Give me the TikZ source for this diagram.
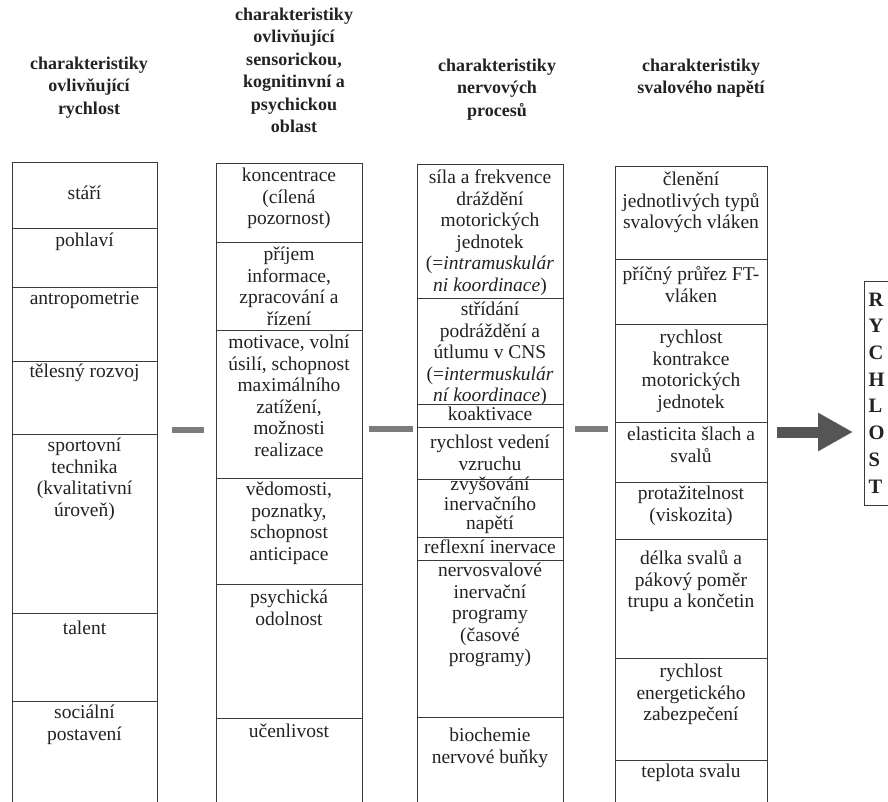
\documentclass[tikz,border=0pt]{standalone}
\usepackage{fontspec}
\setmainfont{Liberation Serif}
\usetikzlibrary{arrows.meta}
\definecolor{linec}{HTML}{3A3A3A}
\definecolor{textc}{HTML}{222222}
\definecolor{barc}{HTML}{7C7C7C}
\definecolor{arrowc}{HTML}{555555}
\newcommand\tcell[7]{%
  \node[cellbox, minimum width=#4pt, minimum height=#5pt] (#1) at (#2,#3) {};
  \node[celltext] (#1t) at ({#2+#4/2},{#6-10.55}) {\strut #7};
}
\begin{document}
\begin{tikzpicture}[x=1pt,y=-1pt,
  cellbox/.style={draw=linec, line width=0.9pt, inner sep=0pt, anchor=north west},
  celltext/.style={anchor=north, align=center, inner sep=0pt, text=textc,
    font=\fontsize{19.5}{21.5}\selectfont},
  head/.style={anchor=north, align=center, inner sep=0pt, text=textc,
    font=\bfseries\fontsize{18}{22.5}\selectfont},
  barline/.style={draw=barc, line width=6.5pt},
  bigarrow/.style={draw=arrowc, line width=11pt, -{Triangle[length=35pt,width=36pt]}},
  resbox/.style={draw=linec, line width=0.9pt, inner sep=0pt, anchor=north west},
  resletters/.style={anchor=north west, align=left, inner sep=0pt, text=textc,
    font=\bfseries\fontsize{20.5}{26.7}\selectfont},
]
\useasboundingbox (0,0) rectangle (888,802);
\fill[white] (0,0) rectangle (888,802);

% headers
\node[head] (h1) at (89,53.5) {\strut charakteristiky\\ovlivňující\\rychlost};
\node[head] (h2) at (294,4.5) {\strut charakteristiky\\ovlivňující\\sensorickou,\\kognitinvní a\\psychickou\\oblast};
\node[head] (h3) at (497,55.5) {\strut charakteristiky\\nervových\\procesů};
\node[head] (h4) at (701,55.5) {\strut charakteristiky\\svalového napětí};

% column 1
\tcell{c1a}{12}{162}{145}{66}{195}{stáří}
\tcell{c1b}{12}{228}{145}{59}{242}{pohlaví}
\tcell{c1c}{12}{287}{145}{74}{300}{antropometrie}
\tcell{c1d}{12}{361}{145}{73}{373}{tělesný rozvoj}
\tcell{c1e}{12}{434}{145}{179}{447}{sportovní\\technika\\(kvalitativní\\úroveň)}
\tcell{c1f}{12}{613}{145}{88}{630}{talent}
\tcell{c1g}{12}{701}{145}{115}{714}{sociální\\postavení}

% column 2
\tcell{c2a}{216}{163}{146}{79}{177}{koncentrace\\(cílená\\pozornost)}
\tcell{c2b}{216}{242}{146}{88}{256}{příjem\\informace,\\zpracování a\\řízení}
\tcell{c2c}{216}{330}{146}{148}{344}{motivace, volní\\úsilí, schopnost\\maximálního\\zatížení,\\možnosti\\realizace}
\tcell{c2d}{216}{478}{146}{106}{491}{vědomosti,\\poznatky,\\schopnost\\anticipace}
\tcell{c2e}{216}{584}{146}{134}{599}{psychická\\odolnost}
\tcell{c2f}{216}{718}{146}{98}{733}{učenlivost}

% column 3
\tcell{c3a}{417}{164}{146}{134}{179}{síla a frekvence\\dráždění\\motorických\\jednotek\\(=\textit{intramuskulár}\\\textit{ni koordinace})}
\tcell{c3b}{417}{298}{146}{106}{311}{střídání\\podráždění a\\útlumu v CNS\\(=\textit{intermuskulár}\\\textit{ní koordinace})}
\tcell{c3c}{417}{404}{146}{23}{416}{koaktivace}
\tcell{c3d}{417}{427}{146}{52}{444}{rychlost vedení\\vzruchu}
\tcell{c3e}{417}{479}{146}{58}{486}{zvyšování\\[-2pt]inervačního\\[-2pt]napětí}
\tcell{c3f}{417}{537}{146}{23}{549}{reflexní inervace}
\tcell{c3g}{417}{560}{146}{157}{572}{nervosvalové\\inervační\\programy\\(časové\\programy)}
\tcell{c3h}{417}{717}{146}{99}{737}{biochemie\\nervové buňky}

% column 4
\tcell{c4a}{615}{166}{152}{93}{181}{členění\\jednotlivých typů\\svalových vláken}
\tcell{c4b}{615}{259}{152}{65}{276}{příčný průřez FT-\\vláken}
\tcell{c4c}{615}{324}{152}{98}{339}{rychlost\\kontrakce\\motorických\\jednotek}
\tcell{c4d}{615}{422}{152}{60}{436}{elasticita šlach a\\svalů}
\tcell{c4e}{615}{482}{152}{57}{495}{protažitelnost\\(viskozita)}
\tcell{c4f}{615}{539}{152}{119}{560}{délka svalů a\\pákový poměr\\trupu a končetin}
\tcell{c4g}{615}{658}{152}{102}{673}{rychlost\\energetického\\zabezpečení}
\tcell{c4h}{615}{760}{152}{56}{773}{teplota svalu}

% result box
\node[resbox, minimum width=40pt, minimum height=224pt] (res) at (864,281) {};
\node[resletters] (resl) at (868.5,292.5) {R\\Y\\C\\H\\L\\O\\S\\T};

% connectors
\coordinate (b1s) at (172,430); \coordinate (b1e) at (204,430);
\coordinate (b2s) at (369,429); \coordinate (b2e) at (413,429);
\coordinate (b3s) at (575,429); \coordinate (b3e) at (608,429);
\coordinate (a1s) at (777,432); \coordinate (a1e) at (853,432);
\draw[barline] (b1s) -- (b1e);
\draw[barline] (b2s) -- (b2e);
\draw[barline] (b3s) -- (b3e);
\draw[bigarrow] (a1s) -- (a1e);
\end{tikzpicture}
\end{document}
